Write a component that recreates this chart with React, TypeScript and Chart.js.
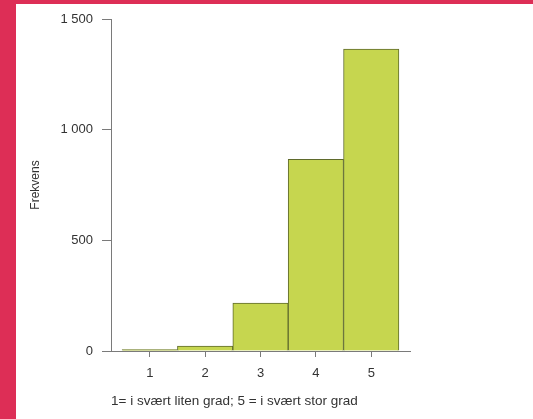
import React, { useEffect, useRef } from "react";
import { Chart, registerables } from "chart.js";

Chart.register(...registerables);

const categories = [1, 2, 3, 4, 5];
const frequencies = [6, 22, 217, 866, 1364];
const yTicks = [0, 500, 1000, 1500];
const yTitle = "Frekvens";
const xTitle = "1= i svært liten grad; 5 = i svært stor grad";

const FONT = "'Liberation Sans', Arial, Helvetica, sans-serif";

export default function App() {
  const ref = useRef<HTMLCanvasElement | null>(null);

  useEffect(() => {
    document.body.style.margin = "0";
    const ctx = ref.current!;
    const chart = new Chart(ctx, {
      type: "bar",
      data: {
        datasets: [
          {
            data: categories.map((c, i) => ({ x: c, y: frequencies[i] })),
            backgroundColor: "#c6d64f",
            borderColor: "#5f6a2c",
            borderWidth: 1,
            barPercentage: 1,
            categoryPercentage: 1,
          },
        ],
      },
      options: {
        animation: false,
        responsive: false,
        maintainAspectRatio: false,
        layout: { padding: { left: 0, right: 123, top: 19, bottom: 0 } },
        plugins: { legend: { display: false }, tooltip: { enabled: false } },
        scales: {
          x: {
            type: "linear",
            min: 0.3,
            max: 5.7,
            offset: false,
            afterBuildTicks: (scale: any) => {
              scale.ticks = categories.map((v) => ({ value: v }));
            },
            afterFit: (scale: any) => {
              scale.height = 68;
            },
            grid: {
              offset: false,
              drawOnChartArea: false,
              drawTicks: true,
              tickLength: 6,
              color: "#7a7a7a",
            },
            border: { display: true, color: "#7a7a7a", width: 1 },
            ticks: {
              padding: 9,
              color: "#333",
              font: { family: FONT, size: 13 },
              callback: (v: any) => String(v),
            },
            title: {
              display: true,
              text: xTitle,
              align: "start",
              color: "#333",
              font: { family: FONT, size: 13.5 },
              padding: { top: 0, bottom: 10 },
            },
          },
          y: {
            min: 0,
            max: 1500,
            afterBuildTicks: (scale: any) => {
              scale.ticks = yTicks.map((v) => ({ value: v }));
            },
            afterFit: (scale: any) => {
              scale.width = 111;
            },
            grid: {
              drawOnChartArea: false,
              drawTicks: true,
              tickLength: 9,
              color: "#7a7a7a",
            },
            border: { display: true, color: "#7a7a7a", width: 1 },
            ticks: {
              padding: 9,
              color: "#333",
              font: { family: FONT, size: 13 },
              callback: (v: any) => {
                const n = Number(v);
                return n >= 1000
                  ? Math.floor(n / 1000) + " " + String(n % 1000).padStart(3, "0")
                  : String(n);
              },
            },
            title: {
              display: true,
              text: yTitle,
              color: "#333",
              font: { family: FONT, size: 12 },
              padding: { top: 28, bottom: 0 },
            },
          },
        },
      },
    });
    return () => chart.destroy();
  }, []);

  return (
    <div
      style={{
        position: "absolute",
        left: 0,
        top: 0,
        width: 533,
        height: 419,
        background: "#dd2e56",
        overflow: "hidden",
      }}
    >
      <div
        style={{
          position: "absolute",
          left: 16,
          top: 4,
          width: 517,
          height: 415,
          background: "#ffffff",
        }}
      />
      <canvas
        ref={ref}
        width={533}
        height={419}
        style={{ position: "absolute", left: 0, top: 0, width: 533, height: 419 }}
      />
    </div>
  );
}
